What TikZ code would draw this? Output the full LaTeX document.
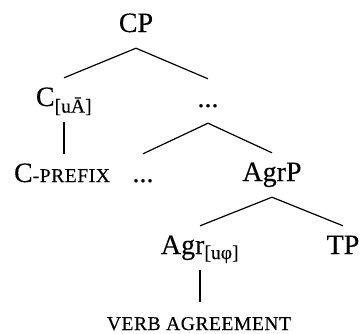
\documentclass[tikz,border=0pt]{standalone}
\usepackage{fontspec}
\usepackage{tikz}
\setmainfont{Liberation Serif}[FakeBold=0.3]
% small caps drawn as smaller capitals
\newcommand{\smcaps}[1]{{\fontsize{19.5}{22}\selectfont\addfontfeature{LetterSpace=3}\MakeUppercase{#1}}}

\begin{document}
\begin{tikzpicture}[
    x=1pt, y=1pt,
    cat/.style={anchor=base, inner xsep=0pt, inner ysep=6pt, text height=22pt, text depth=10pt},
    br/.style={line width=1.2pt},
    every node/.style={font=\fontsize{28}{32}\selectfont}
]
\useasboundingbox (0,0) rectangle (362,-333);
\node[cat] (cp) at (136,-32) {CP};
\node[cat] (c) at (64,-106) {C\textsubscript{[uĀ]}};
\node[cat] (dots1) at (208,-107) {...};
\node[cat] (cpre) at (62,-182) {C\smcaps{-prefix}};
\node[cat] (dots2) at (143,-182) {...};
\node[cat] (agrp) at (272,-181) {AgrP};
\node[cat] (agr) at (200,-254) {Agr\textsubscript{[uφ]}};
\node[cat] (tp) at (343,-254) {TP};
\node[cat] (verb) at (199,-330) {\smcaps{verb agreement}};
% branches
\draw[br] (cp.south) -- (c.north);
\draw[br] (cp.south) -- (dots1.north);
\draw[br] (c.south) -- (c.south |- cpre.north);
\draw[br] (dots1.south) -- (dots2.north);
\draw[br] (dots1.south) -- (agrp.north);
\draw[br] (agrp.south) -- (agr.north);
\draw[br] (agrp.south) -- (tp.north);
\draw[br] (agr.south) -- (agr.south |- verb.north);
\end{tikzpicture}
\end{document}
